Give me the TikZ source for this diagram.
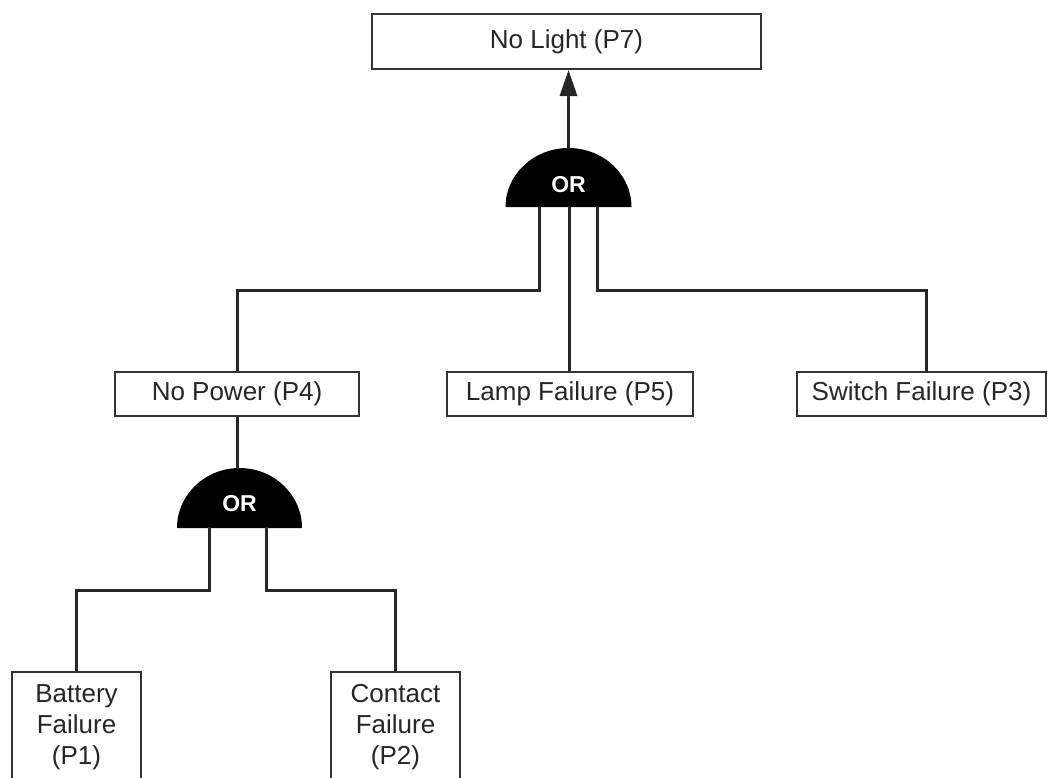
\documentclass[tikz,border=0pt]{standalone}
\usepackage{fontspec}
\setmainfont{Liberation Sans}
\usetikzlibrary{arrows.meta}
\begin{document}
\begin{tikzpicture}[x=1pt,y=-1pt,
  evbox/.style={draw=black!80,line width=2pt,fill=white,inner sep=0pt,
    font=\fontsize{26}{31}\selectfont,text=black!85,align=center},
  wire/.style={draw=black!85,line width=3pt},
  gatefill/.style={fill=black},
  gatelbl/.style={text=white,font=\fontsize{23}{23}\selectfont\bfseries,inner sep=0pt}]
\useasboundingbox (0,0) rectangle (1048,777);
\clip (0,0) rectangle (1048,777);

% boxes
\node[evbox,minimum width=389pt,minimum height=55pt] (top) at (566.5,41.5) {No Light (P7)};
\node[evbox,minimum width=244pt,minimum height=44pt] (nopower) at (237,394) {No Power (P4)};
\node[evbox,minimum width=246pt,minimum height=44pt] (lamp) at (570,394) {Lamp Failure (P5)};
\node[evbox,minimum width=249pt,minimum height=44pt] (switch) at (921.5,394) {Switch Failure (P3)};
\node[evbox,minimum width=129pt,minimum height=110pt] (battery) at (76.5,727) {Battery\\Failure\\(P1)};
\node[evbox,minimum width=129pt,minimum height=110pt] (contact) at (395.5,727) {Contact\\Failure\\(P2)};

% gate 1
\fill[gatefill] (505.5,207) arc[start angle=180,end angle=360,x radius=63,y radius=59] -- cycle;
\node[gatelbl] (or1) at (568.5,185) {OR};
\coordinate (g1top) at (568.5,149);
\coordinate (g1l) at (539,206);
\coordinate (g1m) at (569,206);
\coordinate (g1r) at (597,206);

% gate 2
\fill[gatefill] (177,528) arc[start angle=180,end angle=360,x radius=62.5,y radius=60] -- cycle;
\node[gatelbl] (or2) at (239.5,504) {OR};
\coordinate (g2top) at (237,469);
\coordinate (g2l) at (209,527);
\coordinate (g2r) at (266,527);

% connectors
\draw[wire,-{Triangle[length=26pt,width=17pt]}] (g1top) -- (g1top |- top.south);
\draw[wire] (g1l) -- (539,290) -| (nopower.north);
\draw[wire] (g1m) -- (g1m |- lamp.north);
\draw[wire] (g1r) -- (597,290) -| (926,372);
\draw[wire] (nopower.south) -- (g2top);
\draw[wire] (g2l) -- (209,590) -| (battery.north);
\draw[wire] (g2r) -- (266,590) -| (contact.north);
\end{tikzpicture}
\end{document}
